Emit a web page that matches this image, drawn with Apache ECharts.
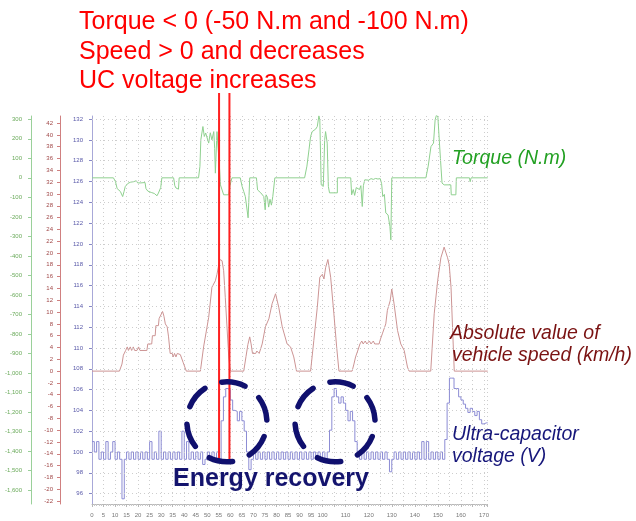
<!DOCTYPE html>
<html><head><meta charset="utf-8">
<script src="https://cdn.jsdelivr.net/npm/echarts@6/dist/echarts.min.js"></script>
<style>html,body{margin:0;padding:0;background:#fff}#c{width:636px;height:521px}</style>
</head><body><div id="c"></div>
<script>
// ---- tick labels ----
const xLabels = [0,5,10,15,20,25,30,35,40,45,50,55,60,65,70,75,80,85,90,95,100,110,120,130,140,150,160,170];
const voltTicks = [96,98,100,102,104,106,108,110,112,114,116,118,120,122,124,126,128,130,132];
const speedTicks = [-22,-20,-18,-16,-14,-12,-10,-8,-6,-4,-2,0,2,4,6,8,10,12,14,16,18,20,22,24,26,28,30,32,34,36,38,40,42];
const torqueTicks = [-1600,-1500,-1400,-1300,-1200,-1100,-1000,-900,-800,-700,-600,-500,-400,-300,-200,-100,0,100,200,300];

// ---- series: torque (N.m), [time s, value] ----
const torque = [[0,0],[9.3,0],[10.2,-20],[10.9,-55],[11.6,-62],[12.3,-70],[12.9,-80],[13.3,-96],[13.9,-70],[14.4,-45],[15,-36],[15.6,-28],[16.2,-38],[16.8,-22],[17.4,-32],[18,-20],[18.6,-28],[19.2,-15],[19.8,-26],[20.5,-18],[21.2,-26],[22,-20],[23,-24],[23.4,-55],[24.2,-68],[25,-64],[25.7,-75],[26.4,-70],[27,-80],[27.6,-72],[28.2,-92],[28.8,-78],[29.4,-85],[29.8,-50],[30.3,0],[35.4,0],[35.9,-40],[36.4,-52],[37.1,-45],[37.5,-58],[37.8,0],[46.2,0],[46.8,58],[47.2,195],[48.1,263],[48.7,212],[49.3,230],[49.9,221],[50.6,178],[51.3,231],[52,195],[52.8,237],[53.2,150],[53.5,24],[54.2,237],[54.9,231],[55.3,50],[55.7,-36],[57.1,-87],[59.3,-87],[59.8,-40],[60.7,0],[64.3,0],[65.1,-44],[65.8,-70],[66.5,-96],[67.2,-90],[67.7,-205],[68.1,-90],[68.4,0],[71.3,0],[71.8,-62],[72.5,-70],[73.2,-77],[73.9,-87],[74.5,-96],[75.1,-164],[75.5,-87],[76.1,-100],[76.6,-150],[77.2,-110],[77.8,-140],[78.4,-96],[79.3,0],[92.2,0],[93.2,60],[94.1,144],[94.8,212],[95.5,237],[97,250],[97.7,263],[98.4,318],[98.8,297],[99.4,-36],[100.3,-44],[100.9,195],[101.3,237],[102,178],[102.5,-44],[103,-77],[106.4,-77],[106.4,0],[112.2,0],[112.6,-87],[113.3,-60],[113.9,-90],[114.6,-50],[115.3,-44],[116,-60],[116.6,-40],[117.2,-147],[117.7,-40],[118.3,-10],[119,-5],[120,-12],[121,-4],[122,-8],[123,-3],[124,-6],[125,-4],[125.6,-30],[126.1,-96],[126.8,-85],[127.4,-180],[128.4,-190],[129.2,-250],[129.6,-318],[130,0],[144.8,0],[145.8,60],[147,160],[148.1,178],[148.8,297],[149.4,323],[150,310],[150.6,318],[151.1,100],[151.8,-27],[152.7,-36],[155.6,-36],[155.8,-87],[157.8,-87],[158,0],[163.7,0],[164,-20],[164.4,0],[171.6,0]];

// ---- series: absolute vehicle speed (km/h), [time s, value] ----
const speed = [[0,0],[11.9,0],[13,1.2],[13.6,2.7],[14.6,3.5],[15.3,4.1],[15.8,3.5],[16.6,4.1],[17.2,3.5],[17.9,4.1],[18.5,3.5],[19.5,3.5],[20.2,4.1],[20.8,3.5],[23.8,3.5],[24.2,4.6],[25.9,4.6],[26.2,6],[27.4,6],[27.7,7.7],[28.8,7.7],[29.1,8.9],[29.8,8.9],[30.6,10.1],[31.2,9.3],[31.8,8],[32.6,7.5],[33.2,5.8],[33.9,3],[34.8,3],[35.2,2.4],[35.8,3],[36.4,2.4],[37,3],[38.3,2.8],[39.5,1.5],[40.9,0],[47,0],[48.4,4.1],[50.6,9.1],[52,14.2],[53.5,15.3],[54.2,16.4],[55.4,18.9],[56.4,18.7],[57.1,17],[57.8,12.5],[59.3,2.4],[60,0],[65.8,0],[66.8,2.5],[67.6,4.5],[68.4,5.8],[69,4.6],[69.6,3],[71,3],[71.5,3.4],[72.5,3],[73.8,4.6],[75.2,7.5],[76.7,8.85],[78.1,11.4],[79.6,13.1],[81,10.8],[82.5,7.5],[84.6,4.6],[86.1,4.1],[87.5,2.4],[88.7,0],[94.8,0],[96.2,5.2],[97.7,10.8],[98.8,15.9],[99.9,16.4],[100.6,15.6],[101.3,17.5],[102.3,18.9],[103.5,15.9],[104.9,9.7],[106.1,4.1],[107.1,0],[112.8,0],[113.6,1.2],[114.3,2.4],[115.2,3.4],[116.2,4.6],[117,5.1],[117.6,4.6],[118.5,5.1],[119.2,4.6],[120.3,5.1],[121,4.6],[122,5.1],[122.6,4.6],[124.5,4.6],[124.9,5.2],[125.9,6.3],[127.4,8],[128.1,10.3],[129.3,11.9],[130,13.9],[131,11.4],[132.5,6.9],[133.9,4.6],[135.4,3.5],[136.8,0.7],[137.5,0],[146.9,0],[148.4,9.7],[149.9,15.3],[151.3,19.2],[152.7,21],[154.2,19.2],[154.9,18.1],[155.7,14.2],[156.4,6.9],[157.1,0],[171.6,0]];

// ---- series: ultra-capacitor voltage (V), one sample per second from t = 0 ----
const voltage = [
 101,100,101,99.3,100,99.3,101,99.3,100,101,
 99.3,100,99.3,95.5,99.3,100,99.3,100,99.3,100,
 99.3,100,99.3,100,99.3,101,99.3,100,99.3,102,
 99.3,100,99.3,100,99.3,100,99.3,100,99.3,102,
 99.3,101,99.3,100,99.3,100,99.3,100,98.8,99.3,
 100,99.3,100,99.3,100,99.3,103,105.3,106.1,106,
 105,104,103.9,103,103.9,103,102,100,98.3,99.3,
 100,99.3,100,99.3,100,99.3,100,99.3,100,99.3,
 100,99.3,100,99.3,100,99.3,100,99.3,100,99.3,
 100,99.3,100,99.3,100,99.3,100,99.3,100,99.3,
 100,99.3,100,102.1,105.3,106.1,105.3,104.7,105.3,104.7,
 104,103,103.9,103,101,100,99.3,100,99.3,100,
 99.3,100,99.3,100,99.3,100,99.3,100,99.3,98.1,
 99.3,100,99.3,100,99.3,100,99.3,100,99.3,100,
 99.3,100,99.3,101,99.3,101,99.3,100,99.3,100,
 99.3,100,99.3,101.2,104.7,107.1,107.1,106.1,106.1,105.3,
 105,104.6,104.2,103.8,104.2,103.9,103.5,103.9,103.1,102.7,
 102.8,102.8,102.8];

// ---- annotation anchors (data space) ----
const markerTimes = [55.1, 59.6];
const recoveryCenters = [[58.5, 102.9], [105.4, 102.9]];

const voltPairs = voltage.map((v, i) => [Math.min(i, 171.6), v]);

const chart = echarts.init(document.getElementById('c'), null, {renderer: 'canvas'});
const dotted = {color: '#cdcdcd', type: [1, 3], width: 1};
const FONT = 'Liberation Sans, Arial, sans-serif';

chart.setOption({
  animation: false,
  backgroundColor: '#fff',
  grid: {left: 92, right: 149, top: 116, bottom: 17, containLabel: false},
  xAxis: {
    type: 'value', min: 0, max: 171.3, interval: 5,
    axisLine: {show: true, onZero: false, lineStyle: {color: '#b8b8b8'}},
    axisTick: {show: true, length: 3, lineStyle: {color: '#b8b8b8'}},
    minorTick: {show: true, splitNumber: 5, length: 2, lineStyle: {color: '#c8c8c8'}},
    axisLabel: {customValues: xLabels, fontSize: 6, color: '#777', margin: 8, fontFamily: FONT},
    splitLine: {show: true, lineStyle: dotted}
  },
  yAxis: [
    {type: 'value', position: 'left', offset: 0, min: 95, max: 132.3,
     axisLine: {show: true, lineStyle: {color: '#a8a8d8'}},
     axisTick: {show: true, customValues: voltTicks, length: 3, lineStyle: {color: '#8888c8'}},
     axisLabel: {customValues: voltTicks, fontSize: 6, color: '#5858a8', margin: 9, fontFamily: FONT},
     splitLine: {show: false}},
    {type: 'value', position: 'left', offset: 32, min: -22.5, max: 43.2,
     axisLine: {show: true, lineStyle: {color: '#d08080'}},
     axisTick: {show: true, customValues: speedTicks, length: 3, lineStyle: {color: '#d08080'}},
     axisLabel: {customValues: speedTicks, fontSize: 6, color: '#a04848', margin: 7, fontFamily: FONT},
     splitLine: {show: false}},
    {type: 'value', position: 'left', offset: 61, min: -1672, max: 317,
     axisLine: {show: true, lineStyle: {color: '#9ad09a'}},
     axisTick: {show: true, customValues: torqueTicks, length: 3, lineStyle: {color: '#9ad09a'}},
     axisLabel: {customValues: torqueTicks, fontSize: 6, color: '#6aaa5a', margin: 9, fontFamily: FONT},
     splitLine: {show: false}}
  ],
  series: [
    {name: 'Voltage', type: 'line', yAxisIndex: 0, data: voltPairs, step: 'end', symbol: 'none', silent: true,
     lineStyle: {color: '#8c8cd4', width: 1},
     markLine: {silent: true, symbol: ['none', 'none'], label: {show: false},
       lineStyle: dotted, emphasis: {disabled: true},
       data: voltTicks.map(v => ({yAxis: v}))}},
    {name: 'Torque', type: 'line', yAxisIndex: 2, data: torque, symbol: 'none', silent: true,
     lineStyle: {color: '#8fd08f', width: 1}},
    {name: 'Speed', type: 'line', yAxisIndex: 1, data: speed, symbol: 'none', silent: true,
     lineStyle: {color: '#cc9494', width: 1}}
  ]
});

const px = t => chart.convertToPixel({xAxisIndex: 0}, t);
const vy = v => chart.convertToPixel({yAxisIndex: 0}, v);

const g = [];
const redTexts = ['Torque < 0 (-50 N.m and -100 N.m)', 'Speed > 0 and decreases', 'UC voltage increases'];
redTexts.forEach((s, i) => g.push({type: 'text', left: 79, top: 10 + i * 29.5, z: 20,
  style: {text: s, fill: '#ff0000', font: '25px ' + FONT}}));

markerTimes.forEach(t => {
  const x = px(t);
  g.push({type: 'line', z: 15, shape: {x1: x, y1: 93, x2: x, y2: vy(99.2)},
    style: {stroke: '#ff2020', lineWidth: 2}});
});

recoveryCenters.forEach(c => {
  g.push({type: 'circle', z: 16, shape: {cx: px(c[0]), cy: vy(c[1]), r: 40},
    style: {fill: 'none', stroke: '#10106e', lineWidth: 5.5, lineDash: [24, 18], lineDashOffset: -15, lineCap: 'round'}});
});

g.push({type: 'text', x: 271, y: 479, z: 20,
  style: {text: 'Energy recovery', fill: '#14146e', font: 'bold 25px ' + FONT, textAlign: 'center', textVerticalAlign: 'middle'}});

const sideLabels = [
  {text: 'Torque (N.m)', x: 452, y: 159, color: '#22a022'},
  {text: 'Absolute value of', x: 450, y: 334, color: '#7a1212'},
  {text: 'vehicle speed (km/h)', x: 452, y: 356, color: '#7a1212'},
  {text: 'Ultra-capacitor', x: 452, y: 435, color: '#16167a'},
  {text: 'voltage (V)', x: 452, y: 457, color: '#16167a'}
];
sideLabels.forEach(l => g.push({type: 'text', x: l.x, y: l.y, z: 20,
  style: {text: l.text, fill: l.color, font: 'italic 19.5px ' + FONT, textAlign: 'left', textVerticalAlign: 'middle'}}));

chart.setOption({graphic: g});
</script></body></html>
